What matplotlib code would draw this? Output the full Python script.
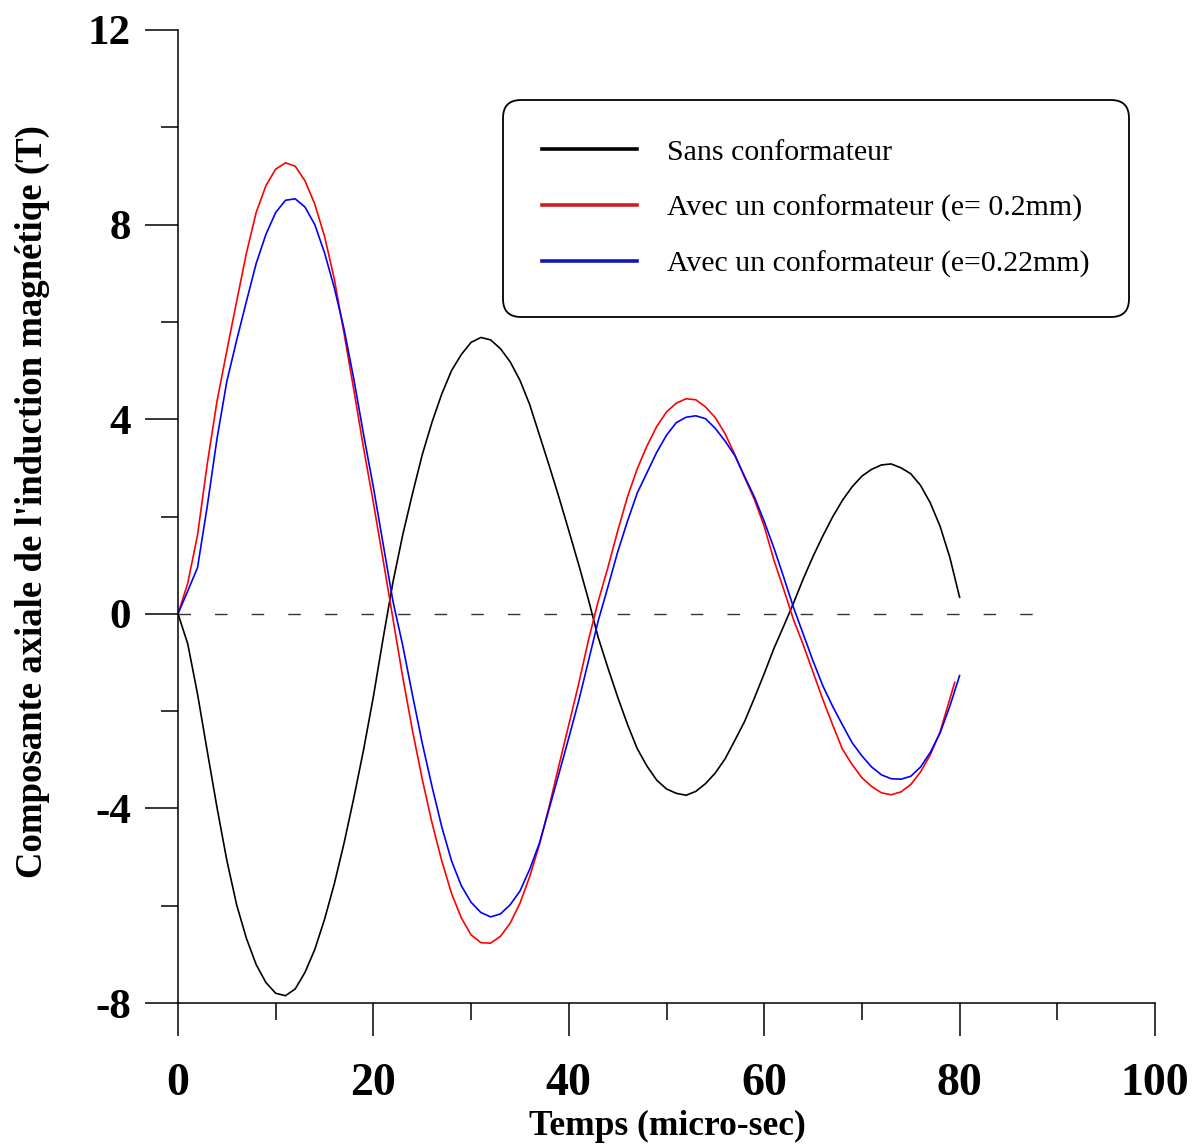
import matplotlib.pyplot as plt
from matplotlib.lines import Line2D

# time axis (micro-sec)
t = list(range(0, 81))
t_red = list(range(0, 80)) + [79.5]

# Sans conformateur
black = [0, -0.62, -1.65, -2.83, -3.99, -5.07, -5.98, -6.67, -7.21, -7.58,
         -7.80, -7.85, -7.71, -7.37, -6.90, -6.28, -5.55, -4.71, -3.78, -2.79,
         -1.70, -0.50, 0.65, 1.62, 2.47, 3.27, 3.94, 4.52, 5.00, 5.33,
         5.58, 5.68, 5.63, 5.45, 5.18, 4.80, 4.30, 3.67, 3.04, 2.39,
         1.71, 1.02, 0.30, -0.48, -1.11, -1.71, -2.27, -2.77, -3.13, -3.42,
         -3.60, -3.69, -3.73, -3.65, -3.49, -3.27, -2.98, -2.60, -2.21, -1.73,
         -1.23, -0.71, -0.25, 0.22, 0.72, 1.18, 1.60, 1.99, 2.33, 2.61,
         2.83, 2.97, 3.06, 3.08, 3.00, 2.88, 2.64, 2.28, 1.80, 1.16, 0.34]

# Avec un conformateur (e= 0.2mm)
red = [0, 0.63, 1.62, 3.09, 4.38, 5.41, 6.42, 7.41, 8.25, 8.80,
       9.14, 9.27, 9.20, 8.90, 8.42, 7.76, 6.88, 5.76, 4.60, 3.40,
       2.28, 1.10, -0.10, -1.30, -2.40, -3.40, -4.30, -5.08, -5.75, -6.25,
       -6.60, -6.76, -6.77, -6.63, -6.36, -5.95, -5.40, -4.74, -3.95, -3.11,
       -2.28, -1.45, -0.55, 0.25, 0.95, 1.70, 2.40, 2.98, 3.45, 3.85,
       4.15, 4.33, 4.42, 4.40, 4.25, 4.03, 3.70, 3.27, 2.80, 2.35,
       1.80, 1.10, 0.50, -0.12, -0.64, -1.20, -1.76, -2.28, -2.78, -3.10,
       -3.37, -3.55, -3.68, -3.72, -3.66, -3.51, -3.25, -2.90, -2.43, -1.75, -1.41]

# Avec un conformateur (e=0.22mm)
blue = [0, 0.47, 0.95, 2.22, 3.61, 4.78, 5.62, 6.42, 7.20, 7.80,
        8.25, 8.50, 8.53, 8.36, 8.00, 7.42, 6.70, 5.85, 4.82, 3.68,
        2.60, 1.43, 0.26, -0.65, -1.67, -2.66, -3.55, -4.38, -5.08, -5.59,
        -5.93, -6.14, -6.23, -6.17, -5.98, -5.70, -5.25, -4.71, -4.00, -3.28,
        -2.55, -1.80, -0.98, -0.15, 0.55, 1.27, 1.90, 2.48, 2.90, 3.32,
        3.67, 3.93, 4.04, 4.07, 4.01, 3.81, 3.55, 3.25, 2.82, 2.40,
        1.90, 1.35, 0.75, 0.13, -0.42, -0.97, -1.48, -1.90, -2.28, -2.65,
        -2.92, -3.15, -3.31, -3.39, -3.40, -3.34, -3.15, -2.85, -2.45, -1.90, -1.27]

labels = ['Sans conformateur',
          'Avec un conformateur (e= 0.2mm)',
          'Avec un conformateur (e=0.22mm)']
zero_line_end = 88.6
x_major = [0, 20, 40, 60, 80, 100]
x_minor = [10, 30, 50, 70, 90]
y_major = [-8, -4, 0, 4, 8, 12]
y_minor = [-6, -2, 2, 6, 10]

plt.rcParams['axes.unicode_minus'] = False
plt.rcParams['font.family'] = ['Liberation Serif', 'DejaVu Serif']
plt.rcParams['font.weight'] = 'bold'

W, H = 1195, 1145
fig = plt.figure(figsize=(W / 100, H / 100), dpi=100)
ax = fig.add_axes([178 / W, 1 - 1003 / H, (1155 - 178) / W, (1003 - 30) / H])

ax.hlines(0, 0, zero_line_end, color='#333333', lw=1.0, linestyles=(0, (9, 17.35)))
ax.plot(t, black, color='black', lw=1.2)
ax.plot(t_red, red, color='red', lw=1.2)
ax.plot(t, blue, color='blue', lw=1.2)

ax.set_xlim(0, 100)
ax.set_ylim(-8, 12)
ax.set_xticks(x_major)
ax.set_xticks(x_minor, minor=True)
ax.set_yticks(y_major)
ax.set_yticks(y_minor, minor=True)

ax.tick_params(which='major', direction='out', length=24, width=1.1)
ax.tick_params(which='minor', direction='out', length=12, width=1.1)
ax.tick_params(axis='x', which='major', labelsize=33, pad=19)
ax.tick_params(axis='y', which='major', labelsize=31, pad=10)

for s in ['top', 'right']:
    ax.spines[s].set_visible(False)
for s in ['left', 'bottom']:
    ax.spines[s].set_linewidth(1.1)

fig.text(32 / W, 1 - 502 / H, "Composante axiale de l'induction magnétiqe (T)",
         rotation=90, ha='center', va='center', fontsize=26.5, fontweight='bold')
fig.text(667 / W, 1 - 1135 / H, 'Temps (micro-sec)',
         ha='center', va='baseline', fontsize=25.5, fontweight='bold')

handles = [Line2D([], [], color=c, lw=2.6) for c in ['black', '#cc1f1f', '#1515b5']]
leg = ax.legend(handles, labels, loc='upper left',
                bbox_to_anchor=(503 / W, 1 - 100 / H), bbox_transform=fig.transFigure,
                borderaxespad=0, prop={'family': 'Liberation Serif', 'weight': 'normal', 'size': 21.5},
                handlelength=3.2, handletextpad=1.0, borderpad=1.3, labelspacing=0.97,
                frameon=True, fancybox=True, framealpha=1, edgecolor='black')
leg.get_frame().set_linewidth(1.3)
leg.get_frame().set_boxstyle('round,pad=0,rounding_size=0.6')

fig.savefig('out.png', dpi=100)
